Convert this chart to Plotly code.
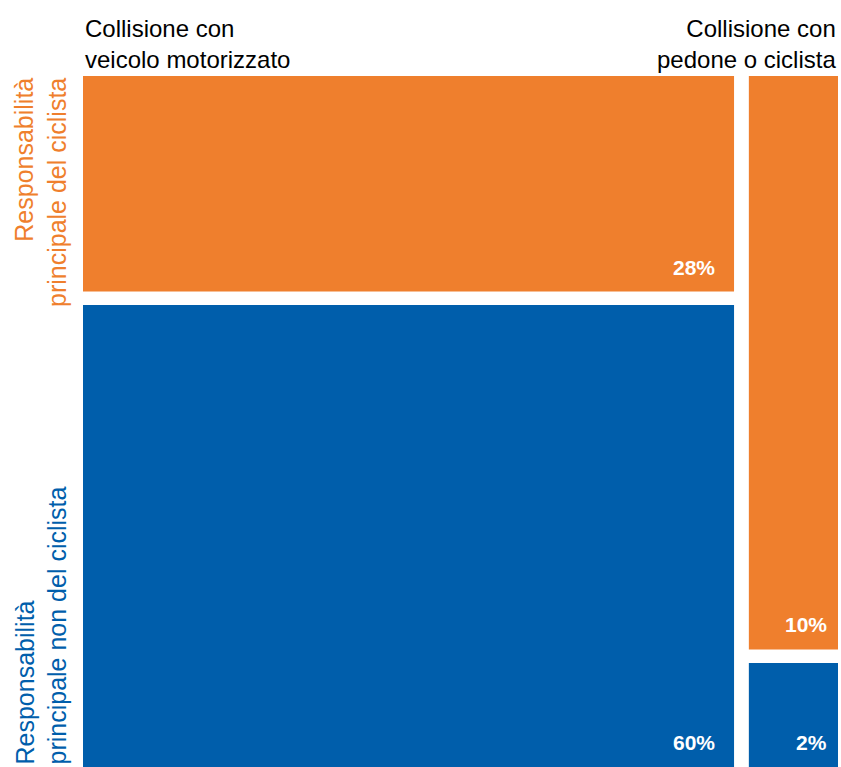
import plotly.graph_objects as go

# Data
columns = ["Collisione con<br>veicolo motorizzato", "Collisione con<br>pedone o ciclista"]
cyclist_resp = [28, 10.2]      # Responsabilità principale del ciclista
other_resp = [60, 1.85]        # Responsabilità principale non del ciclista
row_labels = ["Responsabilità<br>principale del ciclista",
              "Responsabilità<br>principale non del ciclista"]

ORANGE = "#EF7F2D"
BLUE = "#005EAB"
GAP = 2.0
FONT = "Liberation Sans, Arial, sans-serif"

totals = [a + b for a, b in zip(cyclist_resp, other_resp)]
grand = sum(totals)
widths = [t / grand * 100 for t in totals]
starts = []
pos = 0
for w in widths:
    starts.append(pos)
    pos += w + GAP
rights = [s + w for s, w in zip(starts, widths)]
x_end = rights[-1]
centers = [s + w / 2 for s, w in zip(starts, widths)]
blue_share = [b / t * 100 for b, t in zip(other_resp, totals)]
orange_share = [a / t * 100 for a, t in zip(cyclist_resp, totals)]

fig = go.Figure()
fig.add_trace(go.Bar(x=centers, y=blue_share, base=[0] * len(centers), width=widths,
                     marker=dict(color=BLUE, line=dict(width=0)), hoverinfo="skip", showlegend=False))
fig.add_trace(go.Bar(x=centers, y=orange_share, base=[b + GAP for b in blue_share], width=widths,
                     marker=dict(color=ORANGE, line=dict(width=0)), hoverinfo="skip", showlegend=False))

insets = [17, 9]
ann = []
for i in range(len(columns)):
    right = rights[i] - 0.01
    ann.append(dict(x=right, y=0.01, xref="x", yref="y", xanchor="right", yanchor="bottom",
                    xshift=-insets[i], yshift=11, showarrow=False,
                    text=f"<b>{round(other_resp[i])}%</b>",
                    font=dict(family=FONT, size=21, color="white")))
    ann.append(dict(x=right, y=blue_share[i] + GAP, xref="x", yref="y", xanchor="right", yanchor="bottom",
                    xshift=-insets[i], yshift=11, showarrow=False,
                    text=f"<b>{round(cyclist_resp[i])}%</b>",
                    font=dict(family=FONT, size=21, color="white")))

# column headers
ann.append(dict(x=0, y=1, xref="paper", yref="paper", xanchor="left", yanchor="bottom",
                yshift=1, showarrow=False, align="left", text=columns[0],
                font=dict(family=FONT, size=24, color="black")))
ann.append(dict(x=1, y=1, xref="paper", yref="paper", xanchor="right", yanchor="bottom",
                yshift=1, showarrow=False, align="right", text=columns[1],
                font=dict(family=FONT, size=24, color="black")))

# row labels
ann.append(dict(x=0, y=100 + GAP, xref="paper", yref="y", xanchor="right", yanchor="top",
                xshift=-10, showarrow=False, align="right", textangle=-90, text=row_labels[0],
                font=dict(family=FONT, size=25, color=ORANGE)))
ann.append(dict(x=0, y=0, xref="paper", yref="y", xanchor="right", yanchor="bottom",
                xshift=-10, showarrow=False, align="left", textangle=-90, text=row_labels[1],
                font=dict(family=FONT, size=25, color=BLUE)))

fig.update_layout(
    width=841, height=767,
    margin=dict(l=83, r=3, t=76, b=0),
    paper_bgcolor="white", plot_bgcolor="white",
    barmode="overlay",
    xaxis=dict(range=[0, x_end], visible=False, fixedrange=True),
    yaxis=dict(range=[0, 100 + GAP], visible=False, fixedrange=True),
    annotations=ann,
)
fig.write_html("out.html", config={"displayModeBar": False},
               post_script="document.body.style.margin='0';document.body.style.overflow='hidden';")
